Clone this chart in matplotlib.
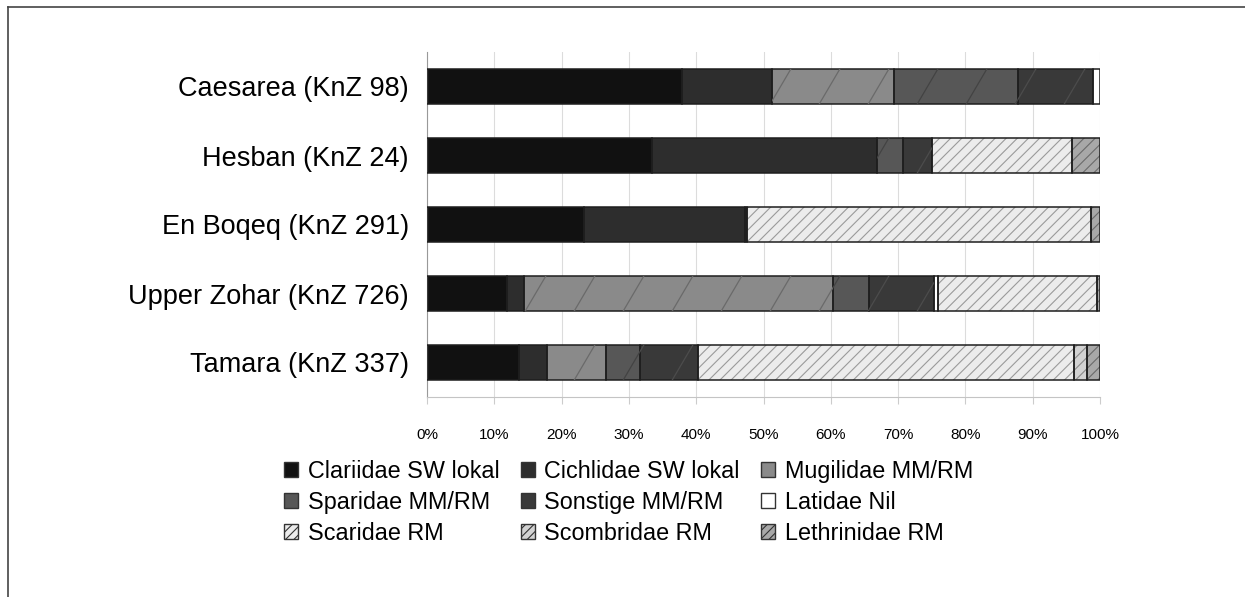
import numpy as np
import matplotlib.pyplot as plt
from matplotlib.patches import Patch
from matplotlib.lines import Line2D
from matplotlib.transforms import IdentityTransform

plt.rcParams['font.family'] = ['Liberation Sans', 'DejaVu Sans']
plt.rcParams['hatch.linewidth'] = 0.8

# site labels, top to bottom
sites = ["Caesarea (KnZ 98)", "Hesban (KnZ 24)", "En Boqeq (KnZ 291)",
         "Upper Zohar (KnZ 726)", "Tamara (KnZ 337)"]

# share of each family per site (%)
clariidae = [37.9, 33.4, 23.4, 11.9, 13.7]
cichlidae = [13.3, 33.4, 23.8, 2.5, 4.2]
mugilidae = [18.2, 0.0, 0.0, 46.0, 8.7]
sparidae = [18.4, 4.0, 0.0, 5.3, 5.1]
sonstige = [11.2, 4.3, 0.4, 9.7, 8.5]
latidae = [1.0, 0.0, 0.0, 0.5, 0.0]
scaridae = [0.0, 20.8, 51.0, 23.6, 56.0]
scombridae = [0.0, 0.0, 0.0, 0.0, 1.8]
lethrinidae = [0.0, 4.1, 1.4, 0.5, 2.0]

series_names = ["Clariidae SW lokal", "Cichlidae SW lokal", "Mugilidae MM/RM",
                "Sparidae MM/RM", "Sonstige MM/RM", "Latidae Nil",
                "Scaridae RM", "Scombridae RM", "Lethrinidae RM"]
series_values = [clariidae, cichlidae, mugilidae, sparidae, sonstige,
                 latidae, scaridae, scombridae, lethrinidae]

# (face, hatch, hatch colour, sparse lines colour)
styles = [
    ("#111111", None, None, None),
    ("#2d2d2d", None, None, None),
    ("#8a8a8a", None, None, "#6a6a6a"),
    ("#575757", None, None, "#434343"),
    ("#393939", None, None, "#4c4c4c"),
    ("#ffffff", None, None, None),
    ("#ececec", "///", "#9a9a9a", None),
    ("#d2d2d2", "///", "#8a8a8a", None),
    ("#a8a8a8", "///", "#6a6a6a", None),
]

W, H = 1245, 597
fig = plt.figure(figsize=(W / 100, H / 100), dpi=100)
ax = fig.add_axes([427 / W, 1 - 397 / H, 673 / W, 345 / H])

ypos = np.arange(len(sites))
left = np.zeros(len(sites))
bar_h = 0.52
sparse_patches = []

for vals, (fc, hatch, hc, sc) in zip(series_values, styles):
    vals = np.array(vals)
    m = vals > 0
    if hatch:
        ax.barh(ypos[m], vals[m], left=left[m], height=bar_h, color=fc,
                hatch=hatch, edgecolor=hc, linewidth=0, zorder=2)
    else:
        ax.barh(ypos[m], vals[m], left=left[m], height=bar_h, color=fc,
                linewidth=0, zorder=2)
    outline = ax.barh(ypos[m], vals[m], left=left[m], height=bar_h, fill=False,
                      edgecolor="#1e1e1e", linewidth=1.1, zorder=3)
    if sc:
        sparse_patches += [(p, sc) for p in outline.patches]
    left += vals

ax.set_xlim(0, 100)
ax.set_ylim(len(sites) - 0.5, -0.5)
ax.set_xticks(np.arange(0, 101, 10))
ax.set_xticklabels([f"{v}%" for v in range(0, 101, 10)], fontsize=11)
ax.set_yticks(ypos)
ax.set_yticklabels(sites, fontsize=19.5)
ax.tick_params(axis='y', length=0, pad=13)
ax.tick_params(axis='x', length=5, color="#cccccc", pad=17)
ax.grid(axis='x', color="#dcdcdc", linewidth=0.8)
ax.set_axisbelow(True)
for s in ["top", "right"]:
    ax.spines[s].set_visible(False)
ax.spines["left"].set_color("#999999")
ax.spines["bottom"].set_color("#c4c4c4")

# sparse diagonal lines on the MM/RM segments
x_ax0 = ax.get_window_extent().x0
for p, sc in sparse_patches:
    bb = p.get_window_extent()
    dx = bb.height / 1.7
    xs = x_ax0 + np.arange(-2, 30) * 49
    for x in xs:
        if x + dx < bb.x0 or x > bb.x1:
            continue
        ln = Line2D([x, x + dx], [bb.y0, bb.y1], color=sc, linewidth=0.9,
                    transform=IdentityTransform(), zorder=2.5)
        ln.set_clip_path(p)
        fig.add_artist(ln)

# legend, filled row by row
handles = []
for name, (fc, hatch, hc, sc) in zip(series_names, styles):
    if hatch:
        handles.append(Patch(facecolor=fc, edgecolor="#333333", hatch="////",
                             linewidth=1.0, label=name))
    else:
        handles.append(Patch(facecolor=fc, edgecolor="#333333", linewidth=1.0,
                             label=name))
order = [0, 3, 6, 1, 4, 7, 2, 5, 8]
fig.legend([handles[i] for i in order], [series_names[i] for i in order],
           ncol=3, loc='upper left', bbox_to_anchor=(284 / W, 1 - 460 / H),
           frameon=False, borderpad=0, fontsize=16.8, handlelength=0.6,
           handleheight=0.6, handletextpad=0.42, labelspacing=0.34,
           columnspacing=0.9, borderaxespad=0)

# frame lines of the original figure (cut at right and bottom)
fig.add_artist(Line2D([8 / W, 1], [1 - 7 / H, 1 - 7 / H], color="#444444",
                      linewidth=1.2, transform=fig.transFigure))
fig.add_artist(Line2D([8 / W, 8 / W], [1 - 7 / H, 0], color="#444444",
                      linewidth=1.2, transform=fig.transFigure))

fig.savefig("out.png", dpi=100)
